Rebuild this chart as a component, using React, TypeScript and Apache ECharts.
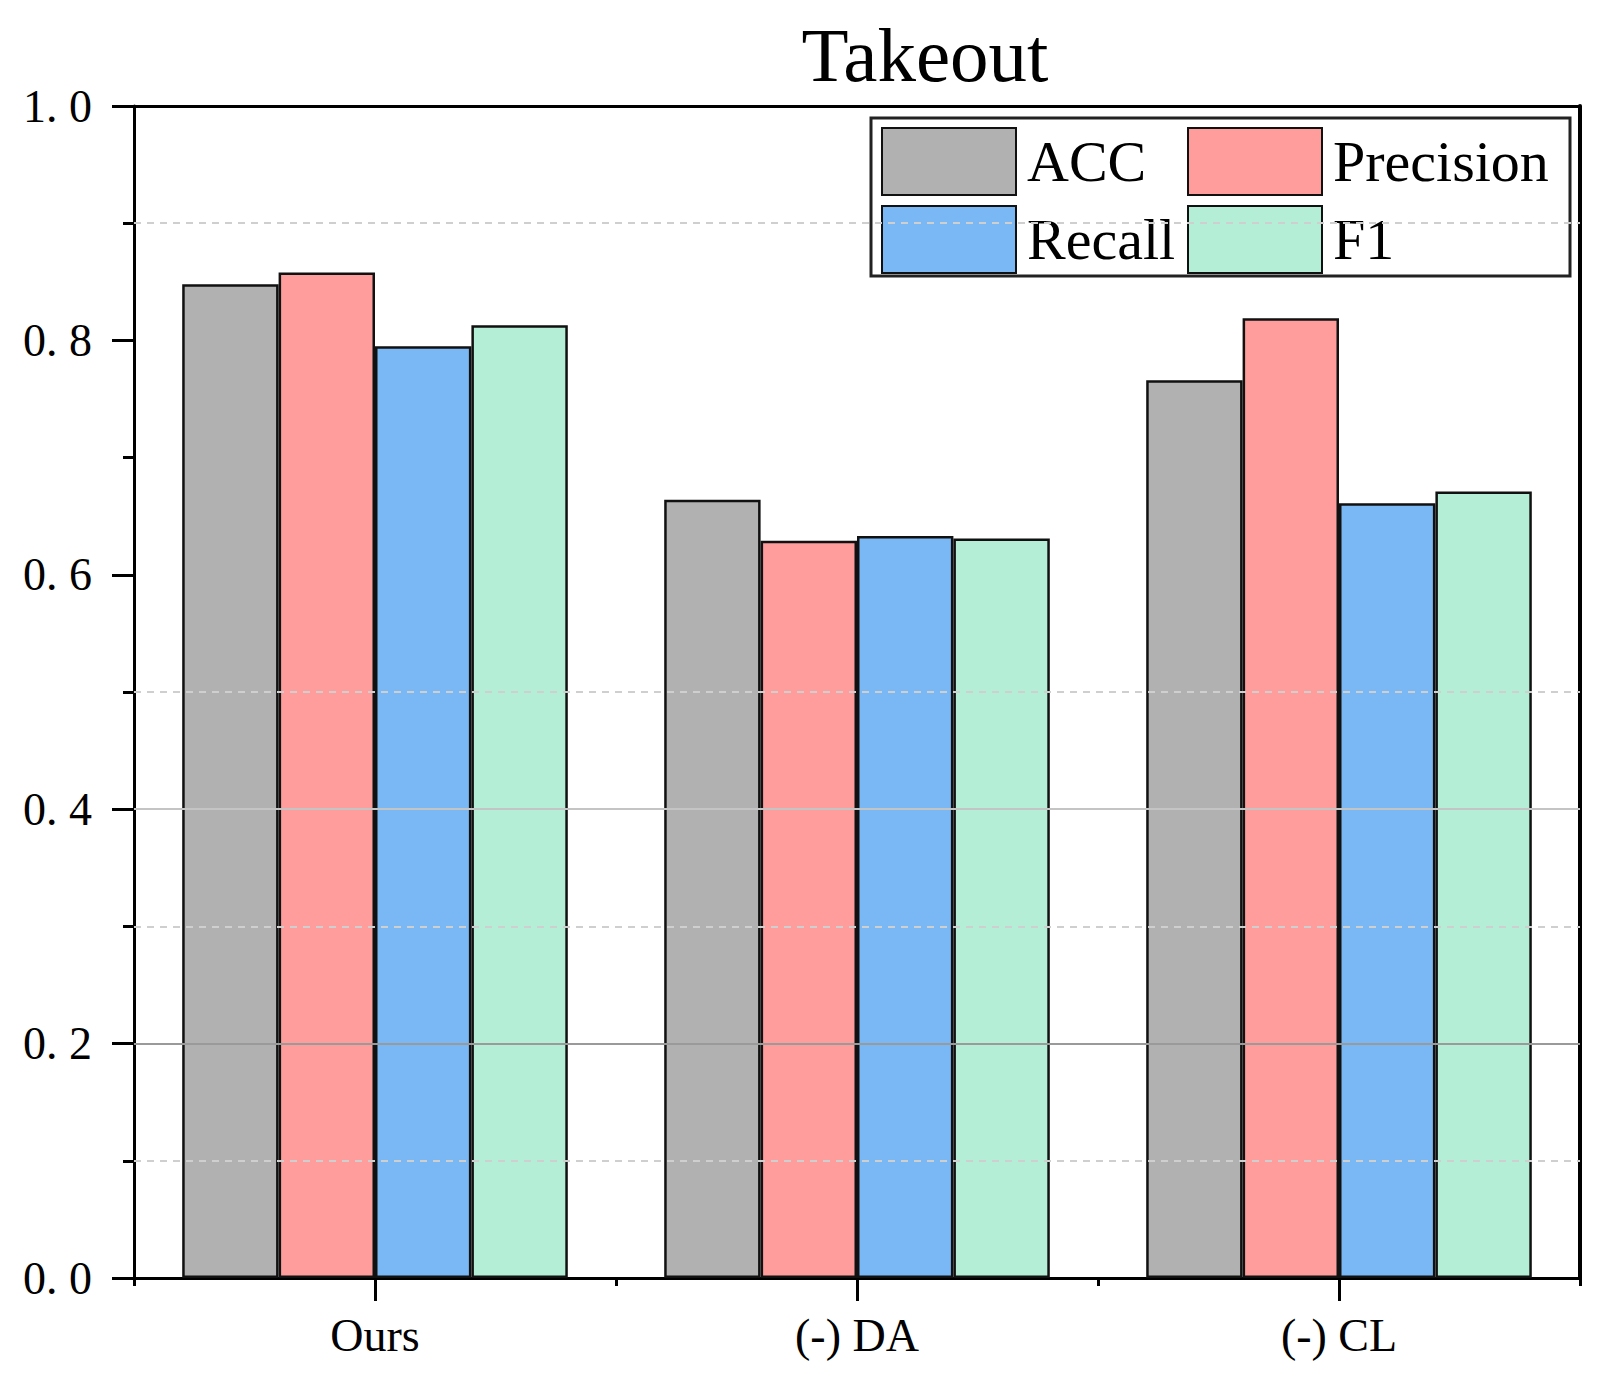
import React, { useEffect, useRef } from "react";
import * as echarts from "echarts";

const categories = ["Ours", "(-) DA", "(-) CL"];
const seriesNames = ["ACC", "Precision", "Recall", "F1"];
const accValues = [0.848, 0.664, 0.766];
const precisionValues = [0.858, 0.629, 0.819];
const recallValues = [0.795, 0.633, 0.661];
const f1Values = [0.813, 0.631, 0.671];
const yTicks = [0, 0.2, 0.4, 0.6, 0.8, 1.0];
const solidGridValues = [0.2, 0.4];
const dashedGridValues = [0.1, 0.3, 0.5, 0.9];

const colors = ["#b1b1b1", "#ff9c9c", "#79b8f4", "#b4eed7"];
const FONT = "Liberation Serif";

export default function App() {
  const ref = useRef<HTMLDivElement>(null);
  useEffect(() => {
    document.body.style.margin = "0";
    const chart = echarts.init(ref.current!, null, { renderer: "svg" });
    const values = [accValues, precisionValues, recallValues, f1Values];
    const markData: any[] = [
      ...solidGridValues.map((v, i) => ({
        yAxis: v,
        lineStyle: { type: "solid", color: i === 0 ? "#9a9a9a" : "#c4c4c4", width: 2 },
      })),
      ...dashedGridValues.map((v) => ({
        yAxis: v,
        lineStyle: { type: [7, 6], color: "#cfcfcf", width: 2 },
      })),
    ];
    const legendText = { fontFamily: FONT, fontSize: 58, color: "#000", padding: [0, 0, 0, 6] };
    const option: any = {
      animation: false,
      backgroundColor: "#ffffff",
      title: {
        text: "Takeout",
        left: 920,
        top: 11,
        textAlign: "center",
        textStyle: { fontFamily: FONT, fontSize: 77, fontWeight: "normal", color: "#000" },
      },
      grid: { left: 134, right: 32, top: 106, bottom: 108 },
      legend: [
        {
          data: [seriesNames[0], seriesNames[2]],
          orient: "vertical",
          left: 876,
          top: 122,
          itemWidth: 134,
          itemHeight: 67,
          itemGap: 9,
          icon: "rect",
          selectedMode: false,
          textStyle: legendText,
        },
        {
          data: [seriesNames[1], seriesNames[3]],
          orient: "vertical",
          left: 1182,
          top: 122,
          itemWidth: 134,
          itemHeight: 67,
          itemGap: 9,
          icon: "rect",
          selectedMode: false,
          textStyle: legendText,
        },
      ],
      graphic: {
        elements: [
          {
            type: "rect",
            z: 3,
            shape: { x: 871, y: 118, width: 699, height: 158 },
            style: { fill: "#ffffff", stroke: "#222", lineWidth: 3 },
          },
        ],
      },
      xAxis: [
        {
          type: "category",
          data: categories,
          position: "bottom",
          axisLine: { show: true, onZero: false, lineStyle: { color: "#000", width: 3 } },
          axisTick: { show: true, alignWithLabel: true, length: 23, lineStyle: { color: "#000", width: 3 } },
          axisLabel: { fontFamily: FONT, fontSize: 46, color: "#000", margin: 34 },
          splitLine: { show: false },
        },
        {
          type: "value",
          min: 0,
          max: 3,
          interval: 1,
          position: "bottom",
          axisLine: { show: false, onZero: false },
          axisTick: { show: true, length: 8, lineStyle: { color: "#000", width: 3 } },
          axisLabel: { show: false },
          splitLine: { show: false },
        },
        {
          type: "value",
          min: 0,
          max: 3,
          position: "top",
          axisLine: { show: true, onZero: false, lineStyle: { color: "#000", width: 3 } },
          axisTick: { show: false },
          axisLabel: { show: false },
          splitLine: { show: false },
        },
      ],
      yAxis: [
        {
          type: "value",
          min: yTicks[0],
          max: yTicks[yTicks.length - 1],
          interval: 0.2,
          position: "left",
          axisLine: { show: true, onZero: false, lineStyle: { color: "#000", width: 3 } },
          axisTick: { show: true, length: 22, lineStyle: { color: "#000", width: 3 } },
          minorTick: { show: true, splitNumber: 2, length: 11, lineStyle: { color: "#000", width: 3 } },
          axisLabel: {
            fontFamily: FONT,
            fontSize: 46,
            color: "#000",
            margin: 42,
            formatter: (v: number) => v.toFixed(1).replace(".", ". "),
          },
          splitLine: { show: false },
        },
        {
          type: "value",
          min: 0,
          max: 1,
          position: "right",
          axisLine: { show: true, onZero: false, lineStyle: { color: "#000", width: 4 } },
          axisTick: { show: false },
          axisLabel: { show: false },
          splitLine: { show: false },
        },
      ],
      series: [
        {
          type: "line",
          name: "grid",
          xAxisIndex: 0,
          yAxisIndex: 0,
          data: ["-", "-", "-"],
          z: 1,
          silent: true,
          symbol: "none",
          markLine: {
            silent: true,
            symbol: ["none", "none"],
            label: { show: false },
            data: markData,
          },
        },
        ...seriesNames.map((name, i) => ({
          type: "bar",
          name,
          xAxisIndex: 0,
          yAxisIndex: 0,
          data: values[i],
          z: 2,
          barGap: "0%",
          barCategoryGap: "20%",
          itemStyle: { color: colors[i], borderColor: "#111", borderWidth: 2.5 },
        })),
      ],
    };
    chart.setOption(option);
    return () => chart.dispose();
  }, []);
  return <div ref={ref} style={{ width: 1612, height: 1386 }} />;
}
